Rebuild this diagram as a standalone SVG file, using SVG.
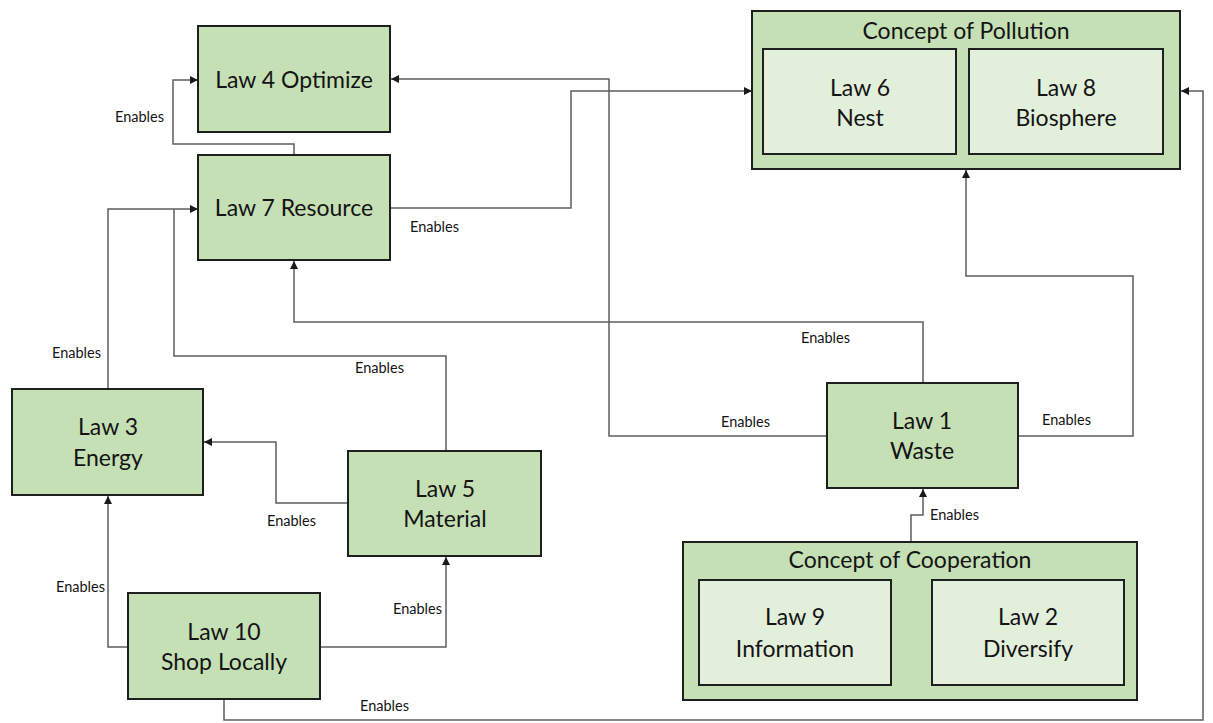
<svg xmlns="http://www.w3.org/2000/svg" width="1213" height="723" viewBox="0 0 1213 723">
  <defs>
    <marker id="arrow" markerUnits="userSpaceOnUse" markerWidth="9" markerHeight="8" refX="8" refY="4" orient="auto">
      <path d="M0,0 L8,4 L0,8 Z" fill="#1a1a1a"/>
    </marker>
    <style>
      .box { fill: #c5e0b4; stroke: #1f1f1f; stroke-width: 2; }
      .inner { fill: #e2efda; stroke: #1f1f1f; stroke-width: 2; }
      .label { font-family: Lato, "Open Sans", sans-serif; font-size: 23px; fill: #141414; text-anchor: middle; }
      .title { font-family: Lato, "Open Sans", sans-serif; font-size: 23px; fill: #141414; text-anchor: middle; }
      .edge { fill: none; stroke: #5e5e5e; stroke-width: 1.5; }
      .tag { font-family: Lato, "Open Sans", sans-serif; font-size: 14.5px; fill: #141414; }
    </style>
  </defs>
  <rect width="1213" height="723" fill="#ffffff"/>

  <!-- connectors -->
  <g id="connectors">
    <path class="edge" d="M294,155 V144 H173 V80 H198" marker-end="url(#arrow)"/>
    <text class="tag" x="115" y="122">Enables</text>

    <path class="edge" d="M827,436 H609 V79 H391" marker-end="url(#arrow)"/>
    <text class="tag" x="721" y="427">Enables</text>

    <path class="edge" d="M390,208 H571 V91 H752" marker-end="url(#arrow)"/>
    <text class="tag" x="410" y="232">Enables</text>

    <path class="edge" d="M1018,436 H1133 V276 H966 V170" marker-end="url(#arrow)"/>
    <text class="tag" x="1042" y="425">Enables</text>

    <path class="edge" d="M923,383 V322 H294 V261" marker-end="url(#arrow)"/>
    <text class="tag" x="801" y="343">Enables</text>

    <path class="edge" d="M108,389 V209 H198" marker-end="url(#arrow)"/>
    <text class="tag" x="52" y="358">Enables</text>

    <path class="edge" d="M446,451 V356 H174 V209"/>
    <text class="tag" x="355" y="373">Enables</text>

    <path class="edge" d="M348,503 H276 V442 H204" marker-end="url(#arrow)"/>
    <text class="tag" x="267" y="526">Enables</text>

    <path class="edge" d="M128,647 H108 V496" marker-end="url(#arrow)"/>
    <text class="tag" x="56" y="592">Enables</text>

    <path class="edge" d="M320,647 H446 V557" marker-end="url(#arrow)"/>
    <text class="tag" x="393" y="614">Enables</text>

    <path class="edge" d="M224,699 V720 H1203 V91 H1181" marker-end="url(#arrow)"/>
    <text class="tag" x="360" y="711">Enables</text>

    <path class="edge" d="M911,542 V515 H923 V489" marker-end="url(#arrow)"/>
    <text class="tag" x="930" y="520">Enables</text>
  </g>

  <!-- nodes -->
  <g id="law4">
    <rect class="box" x="198" y="26" width="192" height="106"/>
    <text class="label" x="294" y="88">Law 4 Optimize</text>
  </g>

  <g id="law7">
    <rect class="box" x="198" y="155" width="192" height="105"/>
    <text class="label" x="294" y="216">Law 7 Resource</text>
  </g>

  <g id="pollution">
    <rect class="box" x="752" y="11" width="428" height="158"/>
    <text class="title" x="966" y="39">Concept of Pollution</text>
    <g id="law6">
      <rect class="inner" x="763" y="49" width="193" height="105"/>
      <text class="label" x="860" y="96">Law 6</text>
      <text class="label" x="860" y="126">Nest</text>
    </g>
    <g id="law8">
      <rect class="inner" x="969" y="49" width="194" height="105"/>
      <text class="label" x="1066" y="96">Law 8</text>
      <text class="label" x="1066" y="126">Biosphere</text>
    </g>
  </g>

  <g id="law3">
    <rect class="box" x="12" y="389" width="191" height="106"/>
    <text class="label" x="108" y="435">Law 3</text>
    <text class="label" x="108" y="466">Energy</text>
  </g>

  <g id="law5">
    <rect class="box" x="348" y="451" width="193" height="105"/>
    <text class="label" x="445" y="497">Law 5</text>
    <text class="label" x="445" y="527">Material</text>
  </g>

  <g id="law10">
    <rect class="box" x="128" y="593" width="192" height="106"/>
    <text class="label" x="224" y="640">Law 10</text>
    <text class="label" x="224" y="670">Shop Locally</text>
  </g>

  <g id="law1">
    <rect class="box" x="827" y="383" width="191" height="105"/>
    <text class="label" x="922" y="429">Law 1</text>
    <text class="label" x="922" y="459">Waste</text>
  </g>

  <g id="cooperation">
    <rect class="box" x="683" y="542" width="454" height="158"/>
    <text class="title" x="910" y="568">Concept of Cooperation</text>
    <g id="law9">
      <rect class="inner" x="699" y="580" width="192" height="105"/>
      <text class="label" x="795" y="625">Law 9</text>
      <text class="label" x="795" y="657">Information</text>
    </g>
    <g id="law2">
      <rect class="inner" x="932" y="580" width="192" height="105"/>
      <text class="label" x="1028" y="625">Law 2</text>
      <text class="label" x="1028" y="657">Diversify</text>
    </g>
  </g>
</svg>
